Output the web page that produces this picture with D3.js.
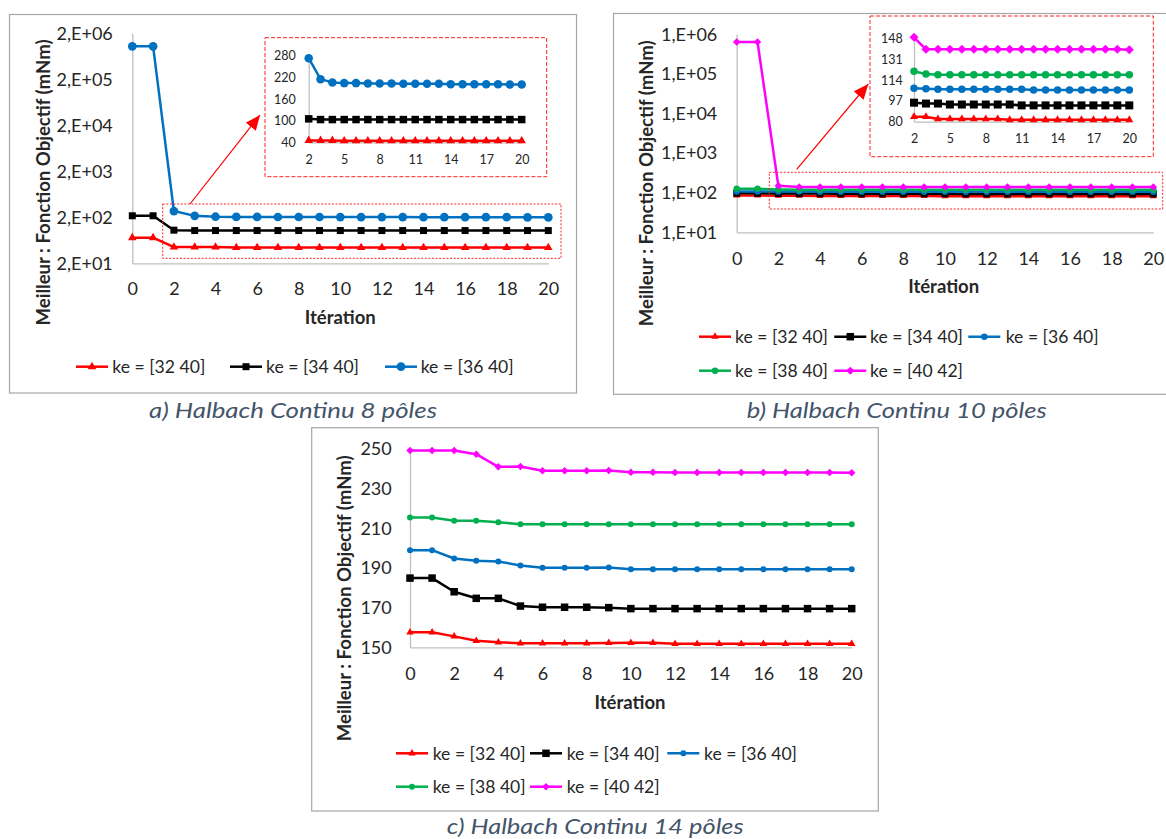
<!DOCTYPE html>
<html><head><meta charset="utf-8">
<script src="https://cdn.jsdelivr.net/npm/d3@7"></script>
<style>
body{margin:0;background:#fff}
svg{display:block}
text{font-family:Lato,"Open Sans",sans-serif}
</style>
</head><body>
<svg id="chart" width="1166" height="839"></svg>
<script>
// ---------------- DATA ----------------
const iterations = [0,1,2,3,4,5,6,7,8,9,10,11,12,13,14,15,16,17,18,19,20];
const seriesNames = ["ke = [32 40]","ke = [34 40]","ke = [36 40]","ke = [38 40]","ke = [40 42]"];

// a) Halbach Continu 8 pôles
const a_ke3240 = [72,72,45,45,45,44,44,44,44,44,44,44,44,44,44,44,44,44,44,44,44];
const a_ke3440 = [216,216,105,103,103,103,103,103,103,103,103,103,103,103,103,103,103,103,103,103,103];
const a_ke3640 = [1040000,1040000,273,215,206,204,204,203,203,203,202,202,202,202,201,201,201,201,201,200,200];

// b) Halbach Continu 10 pôles
const b_ke3240 = [85,85,84,84,82.2,82.2,82.2,82.2,82.2,82.2,81.5,81.5,81.5,81.5,81.5,81.5,81.5,81.5,81.5,81.5,81.5];
const b_ke3440 = [97,97,95.5,94.8,94.8,94,94,94,94,94,94,93.3,93.3,93.3,93.3,93.3,93.3,93.3,93.3,93.3,93.3];
const b_ke3640 = [108,108,107.2,106.9,106.4,106.4,106.4,106.4,106.4,106.4,106.4,106.4,105.9,105.9,105.9,105.9,105.9,105.9,105.9,105.9,105.9];
const b_ke3840 = [125,125,121.2,118.8,118.2,118.2,118.2,118.2,118.2,118.2,118.2,118.2,118.2,118.2,118.2,118.2,118.2,118.2,118.2,118.2,118.2];
const b_ke4042 = [640000,640000,148.8,139,139,139,139,139,139,139,139,139,139,139,139,139,139,139,139,139,138.7];

// c) Halbach Continu 14 pôles
const c_ke3240 = [157.6,157.6,155.5,153.3,152.5,152,152,152,152,152.2,152.3,152.3,151.8,151.8,151.8,151.8,151.8,151.8,151.8,151.8,151.8];
const c_ke3440 = [184.9,184.9,178,174.7,174.7,170.8,170.2,170.2,170.2,170,169.5,169.5,169.5,169.5,169.5,169.5,169.5,169.5,169.5,169.5,169.5];
const c_ke3640 = [199,199,194.8,193.6,193.3,191.3,190.1,190.1,190.1,190.2,189.3,189.3,189.3,189.3,189.3,189.3,189.3,189.3,189.3,189.3,189.3];
const c_ke3840 = [215.5,215.5,213.8,213.8,213.1,212,212,212,212,212,212,212,212,212,212,212,212,212,212,212,212];
const c_ke4042 = [249.2,249.2,249.2,247.4,241,241.2,239,239,239,239.2,238.3,238.3,238.2,238.2,238.2,238.2,238.2,238.2,238.2,238.2,238];

// ticks
const xTicksMain = [0,2,4,6,8,10,12,14,16,18,20];
const xTicksInset = [2,5,8,11,14,17,20];
const aYTicks = [20,200,2000,20000,200000,2000000];
const aYLabels = ["2,E+01","2,E+02","2,E+03","2,E+04","2,E+05","2,E+06"];
const bYTicks = [10,100,1000,10000,100000,1000000];
const bYLabels = ["1,E+01","1,E+02","1,E+03","1,E+04","1,E+05","1,E+06"];
const cYTicks = [150,170,190,210,230,250];
const aInsetYTicks = [40,100,160,220,280];
const bInsetYTicks = [80,97,114,131,148];

const captions = ["a) Halbach Continu 8 pôles","b) Halbach Continu 10 pôles","c) Halbach Continu 14 pôles"];
const yTitle = "Meilleur : Fonction Objectif (mNm)";
const xTitle = "Itération";

// ---------------- STYLE ----------------
const colors = ["#FF0000","#000000","#0070C0","#00B050","#FF00FF"];
const symbols = ["triangle","square","circle","circle","diamond"];
const TXT = "#262626";

const svg = d3.select("#chart");
svg.append("rect").attr("width",1166).attr("height",839).attr("fill","#fff");

function symPath(type, dim){
  if(type==="triangle") return d3.symbol(d3.symbolTriangle, 0.433*dim*dim)();
  if(type==="square") return d3.symbol(d3.symbolSquare, dim*dim)();
  if(type==="diamond") return d3.symbol(d3.symbolSquare, dim*dim/2)();
  return d3.symbol(d3.symbolCircle, Math.PI*dim*dim/4)();
}

function frame(x0,y0,x1,y1){
  svg.append("rect").attr("x",x0).attr("y",y0).attr("width",x1-x0).attr("height",y1-y0)
    .attr("fill","none").attr("stroke","#A6A6A6").attr("stroke-width",1.2);
}

function plot(xs, ys, list, o){
  const g = svg.append("g");
  const yAx = g.append("g").attr("transform",`translate(${xs.range()[0]},0)`)
    .call(d3.axisLeft(ys).tickValues(o.yTicks).tickFormat((d,i)=>o.yLabels[i]).tickSizeInner(0).tickSizeOuter(0).tickPadding(o.yPad));
  const xAx = g.append("g").attr("transform",`translate(0,${ys.range()[0]})`)
    .call(d3.axisBottom(xs).tickValues(o.xTicks).tickFormat(d=>String(d)).tickSizeInner(0).tickSizeOuter(0).tickPadding(o.xPad));
  [yAx,xAx].forEach(a=>{
    a.attr("font-family",null).attr("font-size",null);
    a.select(".domain").attr("stroke","#BFBFBF").attr("stroke-width",1.3);
    a.selectAll("text").attr("fill",TXT).style("font-size",o.fs+"px");
  });
  list.forEach(s=>{
    const pts = o.idx.map(i=>[iterations[i], s.values[i]]);
    g.append("path").attr("d", d3.line().x(d=>xs(d[0])).y(d=>ys(d[1]))(pts))
      .attr("fill","none").attr("stroke",s.color).attr("stroke-width",o.lw).attr("stroke-linejoin","round");
    g.selectAll(null).data(pts).join("path")
      .attr("transform",d=>`translate(${xs(d[0])},${ys(d[1])})${s.symbol==="diamond"?" rotate(45)":""}`)
      .attr("d", symPath(s.symbol, o.sizes[s.symbol]))
      .attr("fill", s.color);
  });
}

function legend(items, sizes){
  items.forEach(it=>{
    const g = svg.append("g");
    g.append("line").attr("x1",it.lx).attr("x2",it.lx+32).attr("y1",it.y).attr("y2",it.y)
      .attr("stroke",colors[it.k]).attr("stroke-width",2.5);
    g.append("path").attr("transform",`translate(${it.lx+16},${it.y})${symbols[it.k]==="diamond"?" rotate(45)":""}`)
      .attr("d",symPath(symbols[it.k], sizes[symbols[it.k]])).attr("fill",colors[it.k]);
    g.append("text").attr("x",it.tx).attr("y",it.y).attr("dy","0.36em")
      .style("font-size","18px").attr("fill",TXT).attr("textLength",93).attr("lengthAdjust","spacingAndGlyphs")
      .text(seriesNames[it.k]);
  });
}

function titles(xt, yt){
  svg.append("text").attr("x",xt[0]).attr("y",xt[1]).attr("dy","0.36em").attr("text-anchor","middle")
    .style("font-size","18px").style("font-weight","bold").attr("fill",TXT)
    .attr("textLength",71).attr("lengthAdjust","spacingAndGlyphs").text(xTitle);
  svg.append("text").attr("transform",`translate(${yt[0]},${yt[1]}) rotate(-90)`).attr("dy","0.36em")
    .attr("text-anchor","middle").style("font-size","18px").style("font-weight","bold").attr("fill",TXT)
    .attr("textLength",286).attr("lengthAdjust","spacingAndGlyphs").text(yTitle);
}

function caption(i,x,y,w){
  svg.append("text").attr("x",x).attr("y",y).attr("dy","0.36em")
    .style("font-size","22px").style("font-style","italic").attr("fill","#44546A")
    .attr("textLength",w).attr("lengthAdjust","spacingAndGlyphs").text(captions[i]);
}

svg.append("defs").append("marker").attr("id","ah").attr("markerUnits","userSpaceOnUse")
  .attr("markerWidth",16).attr("markerHeight",14).attr("refX",15).attr("refY",6.5).attr("orient","auto")
  .append("path").attr("d","M0,0 L15,6.5 L0,13 Z").attr("fill","#FF0000");

function arrow(x1,y1,x2,y2){
  svg.append("line").attr("x1",x1).attr("y1",y1).attr("x2",x2).attr("y2",y2)
    .attr("stroke","#FF0000").attr("stroke-width",1.2).attr("marker-end","url(#ah)");
}
function dashedBox(x0,y0,x1,y1,dash){
  svg.append("rect").attr("x",x0).attr("y",y0).attr("width",x1-x0).attr("height",y1-y0)
    .attr("fill","none").attr("stroke","#FF2020").attr("stroke-width",1).attr("stroke-dasharray",dash);
}

const allIdx = iterations.map((d,i)=>i);
const insetIdx = allIdx.slice(2);

// ---------------- PANEL A ----------------
frame(9.5,14.5,576.5,393);
const aSeries = [a_ke3240,a_ke3440,a_ke3640].map((v,k)=>({values:v,color:colors[k],symbol:symbols[k]}));
plot(d3.scaleLinear([0,20],[132.3,548.3]), d3.scaleLog([20,2000000],[263.3,33.3]), aSeries,
  {yTicks:aYTicks,yLabels:aYLabels,xTicks:xTicksMain,yPad:19.5,xPad:19,fs:18,lw:2.5,idx:allIdx,
   sizes:{triangle:8.5,square:7,circle:8.7,diamond:8}});
dashedBox(162.7,204,561,258.3,"2,1.6");
arrow(190,204,260,115);
dashedBox(265,37.7,546.7,176.7,"4,2");
plot(d3.scaleLinear([2,20],[308.7,521.7]), d3.scaleLinear([40,280],[142.3,55.7]), aSeries,
  {yTicks:aInsetYTicks,yLabels:aInsetYTicks.map(String),xTicks:xTicksInset,yPad:13,xPad:12.5,fs:12.5,lw:2.5,idx:insetIdx,
   sizes:{triangle:8.5,square:7.5,circle:8.5,diamond:8}});
titles([340.3,317.7],[43.3,182.5]);
legend([{k:0,lx:76,tx:112.3,y:366.7},{k:1,lx:230,tx:266,y:366.7},{k:2,lx:385,tx:420.7,y:366.7}],
  {triangle:8.5,square:7,circle:8.7});
caption(0,149,410,288);

// ---------------- PANEL B ----------------
frame(613.5,13.5,1170,394.3);
const bSeries = [b_ke3240,b_ke3440,b_ke3640,b_ke3840,b_ke4042].map((v,k)=>({values:v,color:colors[k],symbol:symbols[k]}));
plot(d3.scaleLinear([0,20],[736.7,1153.3]), d3.scaleLog([10,1000000],[232.3,34.3]), bSeries,
  {yTicks:bYTicks,yLabels:bYLabels,xTicks:xTicksMain,yPad:19.4,xPad:19.5,fs:18,lw:2.5,idx:allIdx,
   sizes:{triangle:7,square:7,circle:6.5,diamond:7.5}});
dashedBox(769.3,172.3,1162.7,209,"2,1.6");
arrow(796.7,169.3,868.3,84);
dashedBox(870,16,1153.3,156.7,"4,2");
plot(d3.scaleLinear([2,20],[914,1129.3]), d3.scaleLinear([80,148],[121.7,38.3]), bSeries,
  {yTicks:bInsetYTicks,yLabels:bInsetYTicks.map(String),xTicks:xTicksInset,yPad:11.3,xPad:12.3,fs:12.5,lw:2.5,idx:insetIdx,
   sizes:{triangle:8,square:8,circle:7.5,diamond:9}});
titles([943.7,286.7],[646.7,183.3]);
legend([{k:0,lx:699,tx:735,y:336.7},{k:1,lx:834.3,tx:870,y:336.7},{k:2,lx:968.3,tx:1005.7,y:336.7},
        {k:3,lx:699,tx:735,y:370.7},{k:4,lx:834.3,tx:870,y:370.7}],
  {triangle:7.5,square:7.5,circle:6.5,diamond:8});
caption(1,746.7,410,300);

// ---------------- PANEL C ----------------
frame(311.7,427.7,878.3,811);
const cSeries = [c_ke3240,c_ke3440,c_ke3640,c_ke3840,c_ke4042].map((v,k)=>({values:v,color:colors[k],symbol:symbols[k]}));
plot(d3.scaleLinear([0,20],[410,851.7]), d3.scaleLinear([150,250],[647.3,449]), cSeries,
  {yTicks:cYTicks,yLabels:cYTicks.map(String),xTicks:xTicksMain,yPad:18.3,xPad:20.2,fs:18,lw:2.5,idx:allIdx,
   sizes:{triangle:7.5,square:7.5,circle:6,diamond:7.5}});
titles([630,702.7],[345,598.3]);
legend([{k:0,lx:396,tx:432.7,y:753.3},{k:1,lx:530,tx:566.7,y:753.3},{k:2,lx:667.3,tx:704,y:753.3},
        {k:3,lx:396,tx:432.7,y:786.7},{k:4,lx:530,tx:566.7,y:786.7}],
  {triangle:7.5,square:7.5,circle:6,diamond:7.5});
caption(2,446.7,826,297);
</script>
</body></html>
